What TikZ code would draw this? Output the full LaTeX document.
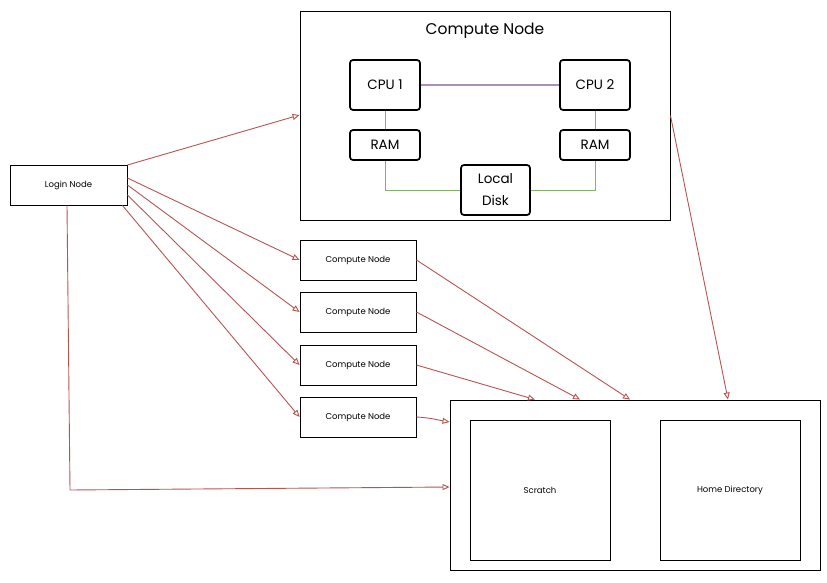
\documentclass[tikz,border=0pt]{standalone}
\usepackage{fontspec}
\setmainfont{Poppins}
\usetikzlibrary{arrows.meta}
\definecolor{linkred}{HTML}{B85450}
\definecolor{busviolet}{HTML}{9673A6}
\definecolor{memgreen}{HTML}{82B366}
\begin{document}
\begin{tikzpicture}[x=1pt,y=-1pt,
  box/.style={draw=black,line width=0.9pt,fill=white,inner sep=0pt,align=center,font=\fontsize{8.5}{10}\selectfont},
  hw/.style={draw=black,line width=1.7pt,rounded corners=3pt,fill=white,inner sep=0pt,align=center,font=\fontsize{13.5}{15}\selectfont},
  link/.style={draw=linkred,line width=0.9pt,-{Triangle[open,length=7pt,width=6pt]}},
  bus/.style={draw=busviolet!80,line width=1.1pt},
  mem/.style={draw=memgreen,line width=0.9pt}]
\useasboundingbox (0,0) rectangle (827,583);

% compute node detail
\node[box,minimum width=370pt,minimum height=209pt] (cn) at (485,115.5) {};
\node[font=\fontsize{15.5}{17}\selectfont] (cntitle) at (485,31) {Compute Node};
\node[hw,minimum width=70pt,minimum height=50pt] (cpu1) at (385,85) {CPU 1};
\node[hw,minimum width=70pt,minimum height=50pt] (cpu2) at (595,85) {CPU 2};
\node[hw,minimum width=70pt,minimum height=30pt] (ram1) at (385,145) {RAM};
\node[hw,minimum width=70pt,minimum height=30pt] (ram2) at (595,145) {RAM};
\node[hw,minimum width=69pt,minimum height=50pt,font=\fontsize{13.5}{22}\selectfont] (disk) at (495.5,190) {Local\\Disk};
\draw[bus] (cpu1.east) -- (cpu2.west);
\draw[mem] (cpu1.south) -- (ram1.north);
\draw[mem] (cpu2.south) -- (ram2.north);
\draw[mem] (ram1.south) |- (disk.west);
\draw[mem] (ram2.south) |- (disk.east);

% login node and compute nodes
\node[box,minimum width=117pt,minimum height=40pt] (login) at (68.5,185) {Login Node};
\node[box,minimum width=116pt,minimum height=40pt] (n1) at (358,260) {Compute Node};
\node[box,minimum width=116pt,minimum height=40pt] (n2) at (358,312) {Compute Node};
\node[box,minimum width=116pt,minimum height=40pt] (n3) at (358,365) {Compute Node};
\node[box,minimum width=116pt,minimum height=40pt] (n4) at (358,417) {Compute Node};

% storage
\node[box,minimum width=370pt,minimum height=170pt] (store) at (635,485) {};
\node[box,minimum width=140pt,minimum height=140pt] (scratch) at (540,490) {Scratch};
\node[box,minimum width=140pt,minimum height=140pt] (home) at (730,490) {Home Directory};

\coordinate (bend) at (70,490);

% connections (canvas yshift: positive is up)
\draw[link] ([yshift=20pt]login.east) -- ([yshift=0.5pt]cn.west);
\draw[link] ([yshift=7pt]login.east) -- (n1.west);
\draw[link] ([yshift=0pt]login.east) -- (n2.west);
\draw[link] ([yshift=-10pt]login.east) -- (n3.west);
\draw[link] ([xshift=-5pt]login.south east) -- (n4.west);
\draw[link] ([xshift=-1.5pt]login.south) -- (bend) -- ([yshift=-2pt]store.west);
\draw[link] (n1.east) -- ([xshift=-5pt]store.north);
\draw[link] (n2.east) -- ([xshift=-55pt]store.north);
\draw[link] (n3.east) -- ([xshift=-100pt]store.north);
\draw[link] (n4.east) to[out=-3,in=170] ([yshift=63pt]store.west);
\draw[link] (cn.east) -- ([xshift=93pt]store.north);
\end{tikzpicture}
\end{document}
